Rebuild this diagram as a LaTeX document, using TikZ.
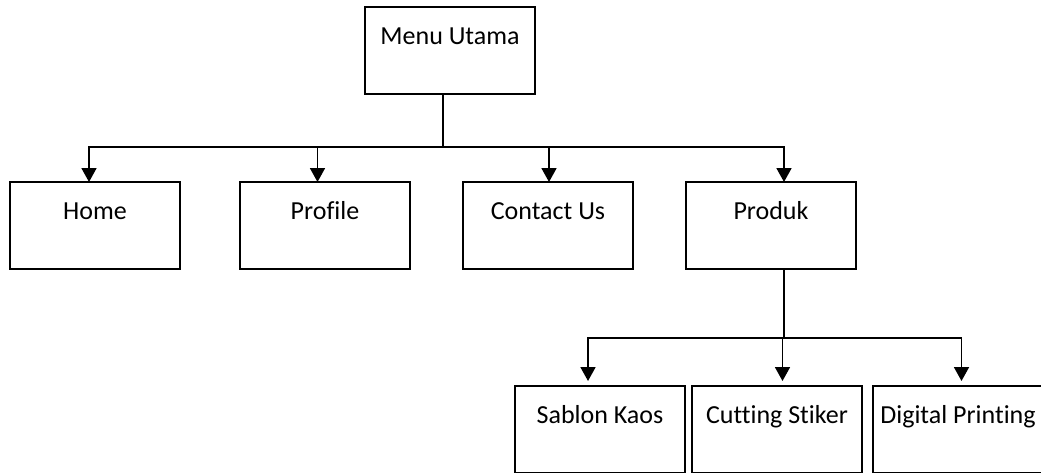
\documentclass[tikz,border=0pt]{standalone}
\usepackage{fontspec}
\setmainfont{Carlito}[Ligatures=NoCommon]
\usetikzlibrary{positioning, arrows.meta}

\begin{document}
\begin{tikzpicture}[x=1pt, y=-1pt,
    menubox/.style={draw, line width=1.8pt, minimum width=170pt, inner ysep=0pt,
      outer sep=0pt, text height=37pt, text depth=50pt, font=\fontsize{26}{31}\selectfont},
    link/.style={line width=1.8pt},
    arrow/.style={link, -{Triangle[width=15pt,length=14pt]}}]
  \useasboundingbox (0,0) rectangle (1041,472);
  \node [menubox] (menu) at (450,50.5) {Menu Utama};
  \node [menubox] (home) at (95,225.5) {Home};
  \node [menubox, right = 60pt of home] (profile) {Profile};
  \node [menubox, right = 53pt of profile] (contact) {Contact Us};
  \node [menubox, right = 53pt of contact] (produk) {Produk};
  \node [menubox] (sablon) at (600,429.5) {Sablon Kaos};
  \node [menubox, right = 7pt of sablon] (cutting) {Cutting Stiker};
  \node [menubox, right = 11pt of cutting] (digital) {Digital Printing};
  % menu utama
  \coordinate (fork) at (443,147);
  \draw [link] (menu.south -| fork) -- (fork);
  \draw [arrow] (fork) -| ([xshift=-6]home.north);
  \draw [arrow] (fork) -| ([xshift=-7.5]profile.north);
  \draw [arrow] (fork) -| ([xshift=1]contact.north);
  \draw [arrow] (fork) -| ([xshift=13]produk.north);
  % produk
  \coordinate (subfork) at (784,338);
  \draw [link] (produk.south -| subfork) -- (subfork);
  \draw [arrow, shorten >=5pt] (subfork) -| ([xshift=-12]sablon.north);
  \draw [arrow, shorten >=5pt] (subfork) -| ([xshift=5.5]cutting.north);
  \draw [arrow, shorten >=5pt] (subfork) -| ([xshift=3.5]digital.north);
\end{tikzpicture}
\end{document}
